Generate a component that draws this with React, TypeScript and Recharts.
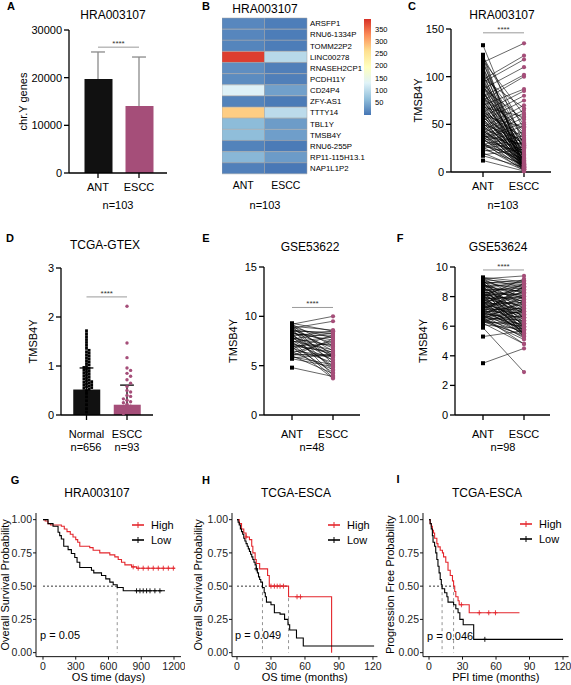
import React from 'react';
import { ComposedChart, BarChart, Bar, Line, Scatter, XAxis, YAxis, Cell, ReferenceLine } from 'recharts';

const FONT = '"Liberation Sans", Arial, Helvetica, sans-serif';
const PINK = '#A54E79';
const KM_RED = '#E4262C';

// A: chr.Y genes (HRA003107)
const chrYGroups = ['ANT', 'ESCC'];
const chrYMean = [19720, 14060];
const chrYSd = [5670, 10270];
const chrYSig = 26400;

// B: heatmap of chr.Y genes
const heatGenes = ['ARSFP1', 'RNU6-1334P', 'TOMM22P2', 'LINC00278', 'RNASEH2CP1', 'PCDH11Y', 'CD24P4', 'ZFY-AS1', 'TTTY14', 'TBL1Y', 'TMSB4Y', 'RNU6-255P', 'RP11-115H13.1', 'NAP1L1P2'];
const heatAnt = [16, 15, 14, 380, 22, 20, 128, 12, 275, 62, 64, 12, 58, 10];
const heatEscc = [8, 7, 7, 97, 9, 9, 38, 5, 100, 34, 36, 5, 33, 3];
const heatGroups = ['ANT', 'ESCC'];
const heatScaleTicks = [50, 100, 150, 200, 250, 300, 350];
const heatMax = 390;
const heatPalette = ['#4575B4', '#91BFDB', '#E0F3F8', '#FFFFBF', '#FEE090', '#FC8D59', '#D73027'];

// C: TMSB4Y paired, HRA003107 (ANT, ESCC)
const hraPairs = [
  [133, 28], [123, 5], [121, 45], [119, 12], [117, 60], [116, 8], [114, 22], [111, 3], [108, 35], [107, 15],
  [104, 2], [103, 50], [101, 18], [99, 6], [98, 67], [96, 25], [95, 10], [93, 40], [92, 4], [90, 30],
  [89, 14], [88, 55], [86, 1], [85, 20], [84, 9], [82, 38], [81, 3], [80, 26], [78, 11], [77, 44],
  [76, 7], [74, 17], [73, 32], [72, 2], [71, 23], [69, 13], [68, 58], [67, 5], [66, 28], [65, 16],
  [64, 1], [63, 36], [62, 9], [61, 21], [60, 4], [59, 47], [58, 12], [57, 30], [56, 3], [55, 19],
  [54, 8], [53, 24], [52, 2], [51, 14], [50, 33], [49, 6], [48, 18], [47, 1], [46, 27], [45, 10],
  [44, 4], [43, 15], [42, 22], [41, 7], [40, 3], [39, 12], [38, 29], [37, 5], [36, 17], [35, 2],
  [34, 9], [33, 20], [31, 1], [30, 11], [29, 6], [28, 14], [26, 3], [24, 8], [20, 2], [17, 5],
  [12, 1], [115, 135], [97, 122], [94, 118], [87, 110], [79, 102], [75, 100], [70, 87], [63, 85], [58, 80],
  [54, 75], [47, 70], [44, 65], [41, 62], [38, 57], [36, 52], [35, 48], [33, 42], [29, 38], [27, 34],
  [25, 31], [22, 26], [18, 24],
];
const hraSig = 146;

// D: TCGA-GTEX
const gtexGroups = ['Normal', 'ESCC'];
const gtexMean = [0.52, 0.21];
const gtexSd = [0.44, 0.4];
const gtexSig = 2.41;
const gtexNormal = [
  1.72, 1.66, 1.6, 1.54, 1.48, 1.42, 1.36,
  1.32, 1.29, 1.26, 1.23, 1.2, 1.17, 1.14, 1.11, 1.08, 1.05, 1.02,
  0.99, 0.97, 0.95, 0.93, 0.91, 0.89, 0.87, 0.85, 0.83, 0.81, 0.79, 0.77, 0.75, 0.73, 0.71,
  0.695, 0.68, 0.665, 0.65, 0.635, 0.62, 0.605, 0.59, 0.575, 0.56, 0.545, 0.53,
  0.5, 0.44, 0.37, 0.29, 0.21, 0.13, 0.06,
];
const gtexEscc = [2.22, 1.47, 1.17, 0.96, 0.91, 0.85, 0.79, 0.72, 0.65, 0.58, 0.5, 0.47, 0.4, 0.38, 0.33, 0.3, 0.27, 0.25, 0.22, 0.18, 0.14, 0.1, 0.06, 0.03];

// E: GSE53622 paired (ANT, ESCC)
const gse22Pairs = [
  [9.3, 8.5], [9.2, 7.0], [9.2, 10.0], [9.1, 6.0], [9.0, 8.6], [9.0, 5.2], [8.9, 7.8], [8.8, 9.5], [8.8, 6.5], [8.7, 4.5],
  [8.6, 8.2], [8.6, 7.3], [8.5, 5.8], [8.5, 8.4], [8.4, 6.8], [8.3, 4.0], [8.3, 7.6], [8.2, 8.0], [8.1, 5.5], [8.0, 6.3],
  [8.0, 8.5], [7.9, 4.8], [7.8, 7.0], [7.8, 6.0], [7.7, 8.3], [7.6, 5.0], [7.5, 6.6], [7.5, 3.8], [7.4, 7.9], [7.3, 5.6],
  [7.2, 6.2], [7.1, 4.3], [7.0, 7.2], [7.0, 6.4], [6.9, 3.7], [6.8, 5.3], [6.7, 8.1], [6.5, 6.0], [6.4, 4.6], [6.3, 7.5],
  [6.2, 5.9], [6.1, 6.1], [6.0, 4.2], [6.0, 7.7], [5.9, 5.1], [5.8, 6.1], [5.7, 4.9], [4.8, 3.9],
];
const gse22Sig = 10.9;

// F: GSE53624 paired (ANT, ESCC)
const gse24Pairs = [
  [9.3, 9.0], [9.25, 8.6], [9.2, 9.4], [9.2, 7.8], [9.15, 8.9], [9.1, 6.5], [9.1, 8.2], [9.05, 7.4], [9.0, 8.8], [9.0, 5.9],
  [8.95, 8.5], [8.9, 7.0], [8.9, 9.1], [8.85, 6.2], [8.8, 8.0], [8.8, 7.6], [8.75, 8.7], [8.7, 5.6], [8.7, 8.3], [8.65, 6.8],
  [8.6, 9.0], [8.6, 7.2], [8.55, 6.0], [8.5, 8.4], [8.5, 7.9], [8.45, 5.4], [8.4, 8.6], [8.4, 6.6], [8.35, 7.5], [8.3, 8.1],
  [8.3, 5.8], [8.25, 7.0], [8.2, 8.8], [8.2, 6.4], [8.15, 7.7], [8.1, 5.5], [8.1, 8.2], [8.05, 6.9], [8.0, 7.3], [8.0, 8.5],
  [7.95, 6.1], [7.9, 7.9], [7.9, 5.7], [7.85, 8.0], [7.8, 6.7], [7.8, 7.4], [7.75, 5.3], [7.7, 8.6], [7.7, 6.3], [7.65, 7.1],
  [7.6, 5.9], [7.6, 8.3], [7.55, 6.6], [7.5, 7.6], [7.5, 5.5], [7.45, 8.9], [7.4, 6.2], [7.4, 7.0], [7.35, 5.6], [7.3, 8.1],
  [7.3, 6.8], [7.25, 7.8], [7.2, 5.4], [7.2, 6.5], [7.15, 8.4], [7.1, 6.0], [7.1, 7.2], [7.05, 5.7], [7.0, 6.9], [7.0, 8.7],
  [6.95, 5.8], [6.9, 7.5], [6.9, 6.3], [6.85, 5.5], [6.8, 8.0], [6.8, 6.6], [6.75, 5.2], [6.7, 7.3], [6.7, 6.1], [6.65, 5.9],
  [6.6, 7.0], [6.6, 4.8], [6.55, 6.4], [6.5, 5.6], [6.5, 7.7], [6.45, 5.3], [6.4, 6.7], [6.4, 5.1], [6.35, 6.0], [6.3, 7.1],
  [6.3, 5.4], [6.25, 6.2], [6.2, 4.8], [6.1, 5.8], [5.9, 2.9], [5.3, 5.7], [3.5, 4.5], [8.0, 9.2],
];
const gse24Sig = 9.8;

// G-I: Kaplan-Meier steps [time, survival] and censor times
const kmGroups = ['High', 'Low'];
const osHraHigh = [[0, 1], [20, 0.99], [45, 0.97], [70, 0.96], [168, 0.95], [195, 0.93], [220, 0.91], [250, 0.89], [275, 0.87], [300, 0.85], [318, 0.83], [337, 0.8], [428, 0.79], [459, 0.77], [520, 0.75], [612, 0.735], [658, 0.72], [689, 0.7], [719, 0.68], [750, 0.66], [811, 0.645], [857, 0.635], [1210, 0.635]];
const osHraLow = [[0, 1], [46, 0.97], [92, 0.95], [138, 0.905], [153, 0.88], [168, 0.855], [190, 0.8], [230, 0.775], [260, 0.745], [291, 0.715], [312, 0.68], [337, 0.64], [444, 0.62], [465, 0.6], [536, 0.58], [575, 0.555], [612, 0.53], [643, 0.51], [680, 0.49], [735, 0.465], [1117, 0.465]];
const osHraHighCens = [826, 872, 918, 964, 1010, 1056, 1102, 1148, 1194];
const osHraLowCens = [857, 888, 918, 949, 980, 1025, 1071];
const osHraMedians = [680];

const osTcgaHigh = [[0, 1], [2, 0.97], [4, 0.93], [6, 0.9], [8, 0.87], [11, 0.85], [13, 0.8], [14, 0.75], [16, 0.7], [17, 0.67], [20, 0.63], [27, 0.58], [28.5, 0.5], [45.5, 0.42], [83.5, 0.42], [83.5, 0]];
const osTcgaLow = [[0, 1], [1, 0.98], [2, 0.96], [3, 0.93], [4, 0.91], [5, 0.89], [6, 0.86], [7, 0.84], [8, 0.82], [9, 0.8], [10, 0.78], [11, 0.76], [12, 0.74], [13, 0.72], [14, 0.7], [15, 0.68], [16, 0.66], [17, 0.63], [18, 0.6], [19, 0.57], [20, 0.55], [21, 0.53], [22.5, 0.49], [24, 0.45], [25, 0.42], [26, 0.38], [30, 0.36], [33, 0.3], [38, 0.29], [42, 0.25], [45, 0.21], [46.5, 0.17], [52.5, 0.11], [58.5, 0.05], [121, 0.05]];
const osTcgaHighCens = [8, 30, 33, 35.5, 38, 41, 53, 56];
const osTcgaLowCens = [17];
const osTcgaMedians = [22.5, 45.5];

const pfiTcgaHigh = [[0, 1], [1, 0.97], [2, 0.95], [3, 0.92], [4, 0.9], [5, 0.86], [7, 0.82], [8, 0.795], [10, 0.77], [12, 0.75], [13, 0.72], [15, 0.68], [17, 0.62], [19, 0.58], [21, 0.54], [22, 0.5], [23, 0.46], [24, 0.42], [26, 0.39], [27, 0.36], [36, 0.3], [81, 0.3]];
const pfiTcgaLow = [[0, 1], [1, 0.97], [2, 0.93], [3, 0.88], [3.6, 0.83], [5, 0.8], [6, 0.75], [7, 0.7], [8, 0.65], [9, 0.6], [10, 0.55], [11, 0.51], [11.7, 0.48], [14, 0.45], [16, 0.42], [17, 0.38], [22, 0.36], [24, 0.33], [26, 0.3], [27.6, 0.25], [30.6, 0.21], [40, 0.1], [120, 0.1]];
const pfiTcgaHighCens = [29, 45, 53.5, 59.5];
const pfiTcgaLowCens = [50];
const pfiTcgaMedians = [11.7, 22];

type Frame = { left: number; top: number; width: number; height: number; yw: number; margin: { top: number; right: number; bottom: number; left: number } };

// place a chart so its plot area lands on the given page box
function frame(axisX: number, topY: number, rightX: number, bottomY: number, yw: number, xh: number, mt = 8, mr = 6): Frame {
  return {
    left: axisX - yw,
    top: topY - mt,
    width: rightX - axisX + yw + mr,
    height: bottomY - topY + mt + xh,
    yw,
    margin: { top: mt, right: mr, bottom: 0, left: 0 },
  };
}

function Box({ f, children }: { f: Frame; children: React.ReactNode }) {
  return <div style={{ position: 'absolute', left: f.left, top: f.top }}>{children}</div>;
}

function Txt({ x, y, size = 12, bold = false, children }: { x: number; y: number; size?: number; bold?: boolean; children: React.ReactNode }) {
  return (
    <div style={{ position: 'absolute', left: x, top: y, transform: 'translate(-50%, -50%)', fontSize: size, fontWeight: bold ? 700 : 400, lineHeight: 1, whiteSpace: 'nowrap' }}>
      {children}
    </div>
  );
}

const prismAxis = {
  axisLine: { stroke: '#000', strokeWidth: 1.3 },
  tickLine: { stroke: '#000', strokeWidth: 1.3 },
  tick: { fill: '#000', fontSize: 11, fontFamily: FONT },
  tickSize: 5,
};

const yLabel = (value: string, size = 11) => ({
  value,
  angle: -90,
  position: 'insideLeft' as const,
  offset: 5,
  style: { textAnchor: 'middle', fontSize: size, fill: '#000', fontFamily: FONT },
});

const stars = { value: '****', position: 'top' as const, offset: 1, fontSize: 8, fill: '#333', fontFamily: FONT };

// x domain that puts group 0 and 1 at given pixel offsets inside the plot
function pairDomain(width: number, a: number, b: number): [number, number] {
  const s = b - a;
  return [-a / s, (width - a) / s];
}

function swarm(values: number[], gap: number) {
  const placed: { v: number; slot: number }[] = [];
  [...values].sort((p, q) => q - p).forEach((v) => {
    for (let k = 0; ; k++) {
      const slot = k % 2 ? (k + 1) / 2 : -k / 2;
      if (!placed.some((p) => p.slot === slot && Math.abs(p.v - v) < gap)) {
        placed.push({ v, slot });
        return;
      }
    }
  });
  return placed;
}

function heatColor(v: number) {
  const t = Math.max(0, Math.min(1, v / heatMax)) * (heatPalette.length - 1);
  const i = Math.min(Math.floor(t), heatPalette.length - 2);
  const f = t - i;
  const c0 = heatPalette[i], c1 = heatPalette[i + 1];
  const ch = (c: string, k: number) => parseInt(c.slice(1 + 2 * k, 3 + 2 * k), 16);
  const mix = [0, 1, 2].map((k) => Math.round(ch(c0, k) + (ch(c1, k) - ch(c0, k)) * f));
  return `rgb(${mix.join(',')})`;
}

function BarPanel({ f, groups, mean, sd, sig, yMax, yTicks, label, errColor, barSize, xDomain, tickMargin = 5, children }: any) {
  const rows = groups.map((g: string, i: number) => ({ x: i, mean: mean[i], top: mean[i] + sd[i] }));
  const cap = 0.17;
  return (
    <Box f={f}>
      <ComposedChart width={f.width} height={f.height} margin={f.margin} data={rows}>
        <XAxis type="number" dataKey="x" domain={xDomain} ticks={[0, 1]} tickFormatter={(v: number) => groups[v]} tickMargin={tickMargin} {...prismAxis} />
        <YAxis type="number" domain={[0, yMax]} ticks={yTicks} width={f.yw} {...prismAxis} label={yLabel(label)} />
        <Bar dataKey="mean" barSize={barSize} isAnimationActive={false}>
          {rows.map((r: any) => <Cell key={r.x} fill={r.x === 0 ? '#111' : PINK} />)}
        </Bar>
        {children}
        {rows.map((r: any) => (
          <ReferenceLine key={'s' + r.x} segment={[{ x: r.x, y: r.mean }, { x: r.x, y: r.top }]} stroke={errColor} strokeWidth={1.3} />
        ))}
        {rows.map((r: any) => (
          <ReferenceLine key={'c' + r.x} segment={[{ x: r.x - cap, y: r.top }, { x: r.x + cap, y: r.top }]} stroke={errColor} strokeWidth={1.3} />
        ))}
        <ReferenceLine segment={[{ x: 0, y: sig }, { x: 1, y: sig }]} stroke="#9a9a9a" label={stars} />
      </ComposedChart>
    </Box>
  );
}

function PairedPanel({ pairs, f, xDomain, yMax, yTicks, sig, tickMargin = 5 }: { pairs: number[][]; f: Frame; xDomain: [number, number]; yMax: number; yTicks: number[]; sig: number; tickMargin?: number }) {
  const rows = chrYGroups.map((_, g) => {
    const row: Record<string, number> = { x: g };
    pairs.forEach((p, i) => {
      row['p' + i] = p[g];
    });
    return row;
  });
  const antPts = pairs.map((p) => ({ x: 0, v: p[0] }));
  const esccPts = pairs.map((p) => ({ x: 1, v: p[1] }));
  return (
    <Box f={f}>
      <ComposedChart width={f.width} height={f.height} margin={f.margin} data={rows}>
        <XAxis type="number" dataKey="x" domain={xDomain} ticks={[0, 1]} tickFormatter={(v: number) => chrYGroups[v]} tickMargin={tickMargin} {...prismAxis} />
        <YAxis type="number" domain={[0, yMax]} ticks={yTicks} width={f.yw} {...prismAxis} label={yLabel('TMSB4Y')} />
        {pairs.map((_, i) => (
          <Line key={i} dataKey={'p' + i} stroke="#000" strokeWidth={0.6} dot={false} activeDot={false} isAnimationActive={false} />
        ))}
        <Scatter data={antPts} dataKey="v" isAnimationActive={false} shape={(p: any) => <rect x={p.cx - 2} y={p.cy - 2} width={4} height={4} fill="#000" />} />
        <Scatter data={esccPts} dataKey="v" isAnimationActive={false} shape={(p: any) => <circle cx={p.cx} cy={p.cy} r={2.1} fill={PINK} />} />
        <ReferenceLine segment={[{ x: 0, y: sig }, { x: 1, y: sig }]} stroke="#9a9a9a" label={stars} />
      </ComposedChart>
    </Box>
  );
}

function KmPanel({ f, high, low, highCens, lowCens, medians, xDomain, xTicks, ylab, xlab }: any) {
  const toPts = (a: number[][]) => a.map(([t, s]) => ({ t, s }));
  const survAt = (a: number[][], t: number) => {
    let s = 1;
    a.forEach(([tt, ss]) => {
      if (tt <= t) s = ss;
    });
    return s;
  };
  const cens = (a: number[][], ts: number[]) => ts.map((t) => ({ t, s: survAt(a, t) }));
  const axis = {
    axisLine: { stroke: '#111', strokeWidth: 1 },
    tickLine: { stroke: '#111', strokeWidth: 1 },
    tick: { fill: '#222', fontSize: 10.5, fontFamily: FONT },
    tickSize: 3,
  };
  const plus = (c: string) => (p: any) => (
    <g stroke={c} strokeWidth={0.9}>
      <line x1={p.cx} y1={p.cy - 2.5} x2={p.cx} y2={p.cy + 2.5} />
      <line x1={p.cx - 2} y1={p.cy} x2={p.cx + 2} y2={p.cy} />
    </g>
  );
  const mMax = Math.max(...medians);
  return (
    <Box f={f}>
      <ComposedChart width={f.width} height={f.height} margin={f.margin}>
        <XAxis type="number" dataKey="t" domain={xDomain} ticks={xTicks} tickMargin={3} height={26} {...axis}
          label={{ value: xlab, position: 'insideBottom', offset: 2, style: { fontSize: 11, fill: '#000', fontFamily: FONT } }} />
        <YAxis type="number" domain={[-0.03, 1.05]} ticks={[0, 0.25, 0.5, 0.75, 1]} tickFormatter={(v: number) => v.toFixed(2)} width={f.yw} tickMargin={1} {...axis}
          label={yLabel(ylab)} />
        <ReferenceLine segment={[{ x: 0, y: 0.5 }, { x: mMax, y: 0.5 }]} stroke="#000" strokeWidth={0.8} strokeDasharray="2 2" />
        {medians.map((m: number) => (
          <ReferenceLine key={m} segment={[{ x: m, y: 0.5 }, { x: m, y: 0 }]} stroke="#777" strokeWidth={0.8} strokeDasharray="3 3" />
        ))}
        <Line data={toPts(high)} dataKey="s" type="stepAfter" stroke={KM_RED} strokeWidth={1.1} dot={false} activeDot={false} isAnimationActive={false} />
        <Line data={toPts(low)} dataKey="s" type="stepAfter" stroke="#000" strokeWidth={1.1} dot={false} activeDot={false} isAnimationActive={false} />
        <Scatter data={cens(high, highCens)} dataKey="s" shape={plus(KM_RED)} isAnimationActive={false} />
        <Scatter data={cens(low, lowCens)} dataKey="s" shape={plus('#000')} isAnimationActive={false} />
      </ComposedChart>
    </Box>
  );
}

function KmLegend({ x, y }: { x: number; y: number }) {
  return (
    <div style={{ position: 'absolute', left: x, top: y, fontSize: 11 }}>
      {kmGroups.map((g, i) => {
        const c = i === 0 ? KM_RED : '#000';
        return (
          <div key={g} style={{ display: 'flex', alignItems: 'center', height: 15 }}>
            <svg width={12} height={8}>
              <line x1={0} y1={4} x2={12} y2={4} stroke={c} strokeWidth={1.6} />
              <line x1={6} y1={1} x2={6} y2={7} stroke={c} strokeWidth={1} />
            </svg>
            <span style={{ marginLeft: 7 }}>{g}</span>
          </div>
        );
      })}
    </div>
  );
}

export default function App() {
  const fA = frame(69, 30, 167, 173, 51, 30);
  const fC = frame(451, 29, 551, 172, 38, 30);
  const fD = frame(61, 268, 153, 411, 33, 34);
  const fE = frame(264, 267, 360, 411, 36, 34);
  const fF = frame(455, 267, 550, 411, 37, 34);
  const fG = frame(36, 513.35, 181, 657, 36, 26, 5, 4);
  const fH = frame(232, 513.35, 377.5, 657, 39, 26, 5, 4);
  const fI = frame(423, 513.35, 568.6, 657, 38, 26, 5, 2);

  const heatRows = heatGenes.map((gene, i) => ({ gene, ant: heatAnt[i], escc: heatEscc[i], antW: 1, esccW: 1 }));
  const normalDots = swarm(gtexNormal, 0.055).map((p) => ({ x: 0, v: p.v, slot: p.slot }));
  const esccDots = swarm(gtexEscc, 0.074).map((p) => ({ x: 1, v: p.v, slot: p.slot }));

  return (
    <div style={{ position: 'absolute', left: 0, top: 0, width: 571, height: 685, background: '#fff', fontFamily: FONT, color: '#000', overflow: 'hidden' }}>
      {/* panel letters */}
      <Txt x={11} y={6} size={11} bold>A</Txt>
      <Txt x={206} y={6} size={11} bold>B</Txt>
      <Txt x={412} y={6} size={11} bold>C</Txt>
      <Txt x={10} y={238} size={11} bold>D</Txt>
      <Txt x={206} y={238} size={11} bold>E</Txt>
      <Txt x={400} y={238} size={11} bold>F</Txt>
      <Txt x={15} y={480} size={11} bold>G</Txt>
      <Txt x={206} y={480} size={11} bold>H</Txt>
      <Txt x={398} y={479} size={11} bold>I</Txt>

      {/* titles */}
      <Txt x={113} y={15}>HRA003107</Txt>
      <Txt x={265} y={9}>HRA003107</Txt>
      <Txt x={502} y={15}>HRA003107</Txt>
      <Txt x={105} y={245}>TCGA-GTEX</Txt>
      <Txt x={310} y={247}>GSE53622</Txt>
      <Txt x={498} y={247}>GSE53624</Txt>
      <Txt x={97} y={493}>HRA003107</Txt>
      <Txt x={296} y={493}>TCGA-ESCA</Txt>
      <Txt x={487} y={493}>TCGA-ESCA</Txt>

      {/* A */}
      <BarPanel f={fA} groups={chrYGroups} mean={chrYMean} sd={chrYSd} sig={chrYSig} yMax={30000} yTicks={[0, 10000, 20000, 30000]}
        label="chr.Y genes" errColor="#8a8a8a" barSize={28} xDomain={pairDomain(98, 29, 70)} />
      <Txt x={118} y={205} size={11}>n=103</Txt>

      {/* B heatmap */}
      <div style={{ position: 'absolute', left: 222, top: 10 }}>
        <BarChart layout="vertical" width={85 + 84} height={156 + 8 + 26} margin={{ top: 8, right: 0, bottom: 0, left: 0 }} data={heatRows} barCategoryGap={0}>
          <XAxis type="number" domain={[0, 2]} ticks={[0.5, 1.5]} tickFormatter={(v: number) => heatGroups[Math.floor(v)]} axisLine={false} tickLine={false}
            tickSize={4} tickMargin={4} height={26} tick={{ fill: '#000', fontSize: 10.5, fontFamily: FONT }} />
          <YAxis type="category" dataKey="gene" orientation="right" width={84} axisLine={false} tickLine={false} tickSize={0} tickMargin={3} interval={0}
            tick={{ fill: '#000', fontSize: 7.8, fontFamily: FONT }} />
          <Bar dataKey="antW" stackId="h" stroke="#a0a0a0" strokeWidth={0.5} isAnimationActive={false}>
            {heatRows.map((r) => <Cell key={r.gene} fill={heatColor(r.ant)} />)}
          </Bar>
          <Bar dataKey="esccW" stackId="h" stroke="#a0a0a0" strokeWidth={0.5} isAnimationActive={false}>
            {heatRows.map((r) => <Cell key={r.gene} fill={heatColor(r.escc)} />)}
          </Bar>
        </BarChart>
      </div>
      <div style={{ position: 'absolute', left: 364, top: 15 }}>
        <BarChart width={7 + 26} height={96 + 8} margin={{ top: 4, right: 0, bottom: 4, left: 0 }} data={[{ k: 'scale', v: heatMax }]} barCategoryGap={0}>
          <defs>
            <linearGradient id="heatGrad" x1="0" y1="1" x2="0" y2="0">
              {heatPalette.map((c, i) => <stop key={c} offset={i / (heatPalette.length - 1)} stopColor={c} />)}
            </linearGradient>
          </defs>
          <XAxis dataKey="k" hide />
          <YAxis orientation="right" type="number" domain={[0, heatMax]} ticks={heatScaleTicks} interval={0} width={26} axisLine={false} tickLine={false} tickSize={0} tickMargin={4}
            tick={{ fill: '#000', fontSize: 7.5, fontFamily: FONT }} />
          <Bar dataKey="v" fill="url(#heatGrad)" isAnimationActive={false} />
        </BarChart>
      </div>
      <Txt x={265} y={205} size={11}>n=103</Txt>

      {/* C */}
      <PairedPanel pairs={hraPairs} f={fC} xDomain={pairDomain(100, 32, 73)} yMax={150} yTicks={[0, 50, 100, 150]} sig={hraSig} />
      <Txt x={503} y={205} size={11}>n=103</Txt>

      {/* D */}
      <BarPanel f={fD} groups={gtexGroups} mean={gtexMean} sd={gtexSd} sig={gtexSig} yMax={3} yTicks={[0, 1, 2, 3]}
        label="TMSB4Y" errColor="#000" barSize={27} xDomain={pairDomain(92, 25.5, 66)} tickMargin={10}>
        <Scatter data={normalDots} dataKey="v" isAnimationActive={false}
          shape={(p: any) => <rect x={p.cx + p.payload.slot * 2.6 - 1.4} y={p.cy - 1.4} width={2.8} height={2.8} fill="#000" />} />
        <Scatter data={esccDots} dataKey="v" isAnimationActive={false}
          shape={(p: any) => <circle cx={p.cx + p.payload.slot * 3.6} cy={p.cy} r={1.7} fill={PINK} />} />
      </BarPanel>
      <Txt x={86} y={447} size={11}>n=656</Txt>
      <Txt x={127} y={447} size={11}>n=93</Txt>

      {/* E */}
      <PairedPanel pairs={gse22Pairs} f={fE} xDomain={pairDomain(96, 28, 69)} yMax={15} yTicks={[0, 5, 10, 15]} sig={gse22Sig} tickMargin={10} />
      <Txt x={312} y={447} size={11}>n=48</Txt>

      {/* F */}
      <PairedPanel pairs={gse24Pairs} f={fF} xDomain={pairDomain(95, 28, 69)} yMax={10} yTicks={[0, 2, 4, 6, 8, 10]} sig={gse24Sig} tickMargin={10} />
      <Txt x={503} y={447} size={11}>n=98</Txt>

      {/* G */}
      <KmPanel f={fG} high={osHraHigh} low={osHraLow} highCens={osHraHighCens} lowCens={osHraLowCens} medians={osHraMedians}
        xDomain={[-64, 1264]} xTicks={[0, 300, 600, 900, 1200]} ylab="Overall Survival Probability" xlab="OS time (days)" />
      <KmLegend x={132} y={517} />
      <div style={{ position: 'absolute', left: 40, top: 629, fontSize: 11 }}>p = 0.05</div>

      {/* H */}
      <KmPanel f={fH} high={osTcgaHigh} low={osTcgaLow} highCens={osTcgaHighCens} lowCens={osTcgaLowCens} medians={osTcgaMedians}
        xDomain={[-4.4, 124]} xTicks={[0, 30, 60, 90, 120]} ylab="Overall Survival Probability" xlab="OS time (months)" />
      <KmLegend x={328} y={517} />
      <div style={{ position: 'absolute', left: 235, top: 629, fontSize: 11 }}>p = 0.049</div>

      {/* I */}
      <KmPanel f={fI} high={pfiTcgaHigh} low={pfiTcgaLow} highCens={pfiTcgaHighCens} lowCens={pfiTcgaLowCens} medians={pfiTcgaMedians}
        xDomain={[-5.4, 125]} xTicks={[0, 30, 60, 90, 120]} ylab="Progression Free Probability" xlab="PFI time (months)" />
      <KmLegend x={520} y={516} />
      <div style={{ position: 'absolute', left: 427, top: 630, fontSize: 11 }}>p = 0.046</div>
    </div>
  );
}
